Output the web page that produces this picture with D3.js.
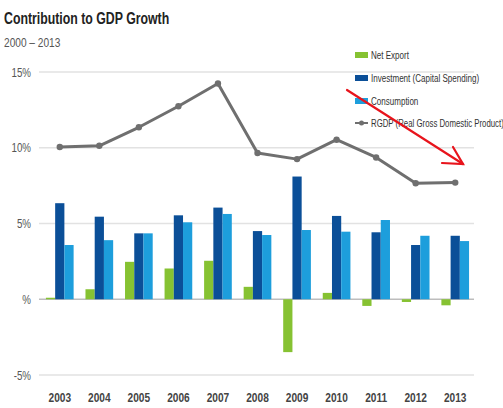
<!DOCTYPE html>
<html>
<head>
<meta charset="utf-8">
<script src="https://cdn.jsdelivr.net/npm/d3@7"></script>
<style>
  html, body { margin: 0; padding: 0; background: #fff; }
  svg { display: block; }
  text { font-family: "Liberation Sans", Arial, sans-serif; }
</style>
</head>
<body>
<svg id="chart" width="503" height="408"></svg>
<script>
// Years on the x axis
const years = ["2003", "2004", "2005", "2006", "2007", "2008", "2009", "2010", "2011", "2012", "2013"];
// Contributions to growth, percentage points
const netExport   = [0.1, 0.66, 2.47, 2.03, 2.54, 0.82, -3.49, 0.42, -0.44, -0.18, -0.4];
const investment  = [6.34, 5.45, 4.35, 5.54, 6.05, 4.5, 8.1, 5.5, 4.42, 3.58, 4.19];
const consumption = [3.58, 3.9, 4.35, 5.08, 5.63, 4.24, 4.57, 4.46, 5.23, 4.19, 3.84];
// Real GDP growth, %
const rgdp = [10.05, 10.13, 11.35, 12.74, 14.24, 9.65, 9.25, 10.53, 9.36, 7.66, 7.7];
// Axis ticks
const yTicks = [-5, 0, 5, 10, 15];
const yTickLabels = ["-5%", "%", "5%", "10%", "15%"];
const seriesNames = ["Net Export", "Investment (Capital Spending)", "Consumption"];
const lineName = "RGDP (Real Gross Domestic Product)";

const colors = { "Net Export": "#86c232", "Investment (Capital Spending)": "#0b4f98", "Consumption": "#1d9edc" };
const lineColor = "#6f6f6f";

const svg = d3.select("#chart");

// Text in a condensed style: a group anchored at (x, y), squeezed horizontally
function condensedText(parent, x, y, str, sx, anchor) {
  const g = parent.append("g").attr("transform", `translate(${x},${y}) scale(${sx},1)`);
  return g.append("text").attr("x", 0).attr("y", 0)
    .attr("text-anchor", anchor || "start").text(str);
}

const x = d3.scaleBand().domain(years).range([40, 475]).paddingInner(0.3).paddingOuter(0.15);
const xSub = d3.scaleBand().domain(seriesNames).range([0, x.bandwidth()]);
const y = d3.scaleLinear().domain([-5, 15]).range([375, 72]);

// Title
condensedText(svg, 4, 24, "Contribution to GDP Growth", 0.77)
  .attr("font-size", 16).attr("font-weight", "bold").attr("fill", "#222");
condensedText(svg, 4, 47, "2000 – 2013", 0.78)
  .attr("font-size", 13).attr("fill", "#555");

// Gridlines
svg.append("g").selectAll("line").data(yTicks).join("line")
  .attr("x1", 39).attr("x2", 474)
  .attr("y1", d => y(d)).attr("y2", d => y(d))
  .attr("stroke", d => d === 0 ? "#bdbdbd" : "#e2e2e2")
  .attr("stroke-width", 1.5);

// Y axis labels
const gy = svg.append("g");
yTicks.forEach((t, i) => {
  condensedText(gy, 31, y(t) + 4.5, yTickLabels[i], 0.78, "end")
    .attr("font-size", 12.5).attr("fill", "#555");
});

// X axis labels, positioned from the band scale
const gx = svg.append("g");
years.forEach(yr => {
  condensedText(gx, x(yr) + x.bandwidth() / 2, 402, yr, 0.78, "middle")
    .attr("font-size", 13).attr("font-weight", "bold").attr("fill", "#444");
});

// Bars
const seriesData = { "Net Export": netExport, "Investment (Capital Spending)": investment, "Consumption": consumption };
const bars = [];
years.forEach((yr, i) => {
  seriesNames.forEach(s => bars.push({ year: yr, series: s, value: seriesData[s][i] }));
});
svg.append("g").selectAll("rect").data(bars).join("rect")
  .attr("x", d => x(d.year) + xSub(d.series))
  .attr("width", xSub.bandwidth())
  .attr("y", d => y(Math.max(0, d.value)))
  .attr("height", d => Math.abs(y(d.value) - y(0)))
  .attr("fill", d => colors[d.series]);

// RGDP line
const line = d3.line().x((d, i) => x(years[i]) + x.bandwidth() / 2).y(d => y(d));
svg.append("path").datum(rgdp).attr("d", line)
  .attr("fill", "none").attr("stroke", lineColor).attr("stroke-width", 3)
  .attr("stroke-linejoin", "round");
svg.append("g").selectAll("circle").data(rgdp).join("circle")
  .attr("cx", (d, i) => x(years[i]) + x.bandwidth() / 2)
  .attr("cy", d => y(d)).attr("r", 3.2).attr("fill", lineColor);

// Legend
const legend = svg.append("g").attr("transform", "translate(355,0)");
const legendRows = [55, 78, 101];
seriesNames.forEach((s, i) => {
  legend.append("rect").attr("x", 0).attr("y", legendRows[i] - 3).attr("width", 13).attr("height", 6)
    .attr("fill", colors[s]);
  condensedText(legend, 16, legendRows[i] + 4, s, 0.7)
    .attr("font-size", 11.5).attr("fill", "#333");
});
legend.append("line").attr("x1", 0).attr("x2", 13).attr("y1", 123).attr("y2", 123)
  .attr("stroke", lineColor).attr("stroke-width", 2);
legend.append("circle").attr("cx", 6.5).attr("cy", 123).attr("r", 2.5).attr("fill", lineColor);
condensedText(legend, 16, 127, lineName, 0.68)
  .attr("font-size", 11.5).attr("fill", "#333");

// Downward trend arrow
const arrow = svg.append("g").attr("stroke", "#e8141c").attr("stroke-width", 2.2)
  .attr("fill", "none").attr("stroke-linecap", "round");
arrow.append("line").attr("x1", 347).attr("y1", 90).attr("x2", 463).attr("y2", 164);
arrow.append("polyline").attr("points", "442,163 463,164 453,147");
</script>
</body>
</html>
